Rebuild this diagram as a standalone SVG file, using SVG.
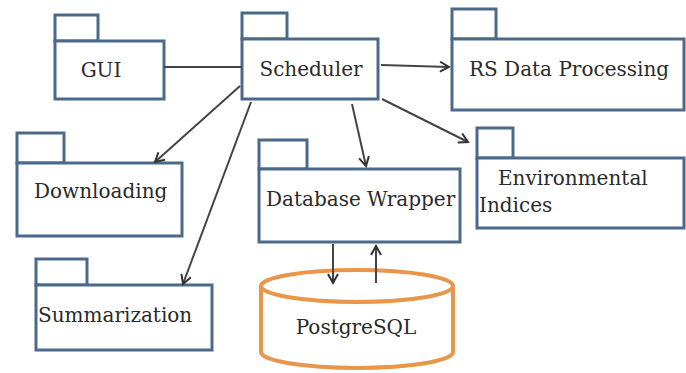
<svg xmlns="http://www.w3.org/2000/svg" width="686" height="373" viewBox="0 0 686 373">
<style>
.pkg{fill:#fff;stroke:#4b6a8a;stroke-width:3}
.lbl{font-family:"DejaVu Serif","Liberation Serif",serif;font-size:20px;fill:#2a2a2a}
.con{stroke:#444;stroke-width:2;fill:none}
.db{fill:#fff;stroke:#e8964a;stroke-width:4}
</style>
<defs>
<marker id="arr" markerWidth="12" markerHeight="12" refX="10" refY="6" orient="auto" markerUnits="userSpaceOnUse">
<path d="M1,1 L10,6 L1,11" fill="none" stroke="#333" stroke-width="2"/>
</marker>
</defs>
<rect width="686" height="373" fill="#fff"/>
<g id="gui">
<rect class="pkg" x="55" y="15" width="43" height="26"/>
<rect class="pkg" x="55" y="41" width="109" height="58"/>
<text class="lbl" x="101" y="77" text-anchor="middle">GUI</text>
</g>
<g id="scheduler">
<rect class="pkg" x="242" y="13" width="45" height="26"/>
<rect class="pkg" x="242" y="39" width="136" height="60"/>
<text class="lbl" x="311" y="76" text-anchor="middle">Scheduler</text>
</g>
<g id="rs-data-processing">
<rect class="pkg" x="452" y="9" width="44" height="30"/>
<rect class="pkg" x="452" y="39" width="232" height="71"/>
<text class="lbl" x="469" y="76">RS Data Processing</text>
</g>
<g id="downloading">
<rect class="pkg" x="17" y="133" width="47" height="30"/>
<rect class="pkg" x="17" y="163" width="165" height="73"/>
<text class="lbl" x="34" y="198">Downloading</text>
</g>
<g id="summarization">
<rect class="pkg" x="36" y="259" width="51" height="26"/>
<rect class="pkg" x="36" y="285" width="176" height="65"/>
<text class="lbl" x="38" y="322">Summarization</text>
</g>
<g id="database-wrapper">
<rect class="pkg" x="259" y="140" width="48" height="29"/>
<rect class="pkg" x="259" y="169" width="201" height="73"/>
<text class="lbl" x="266" y="206">Database Wrapper</text>
</g>
<g id="environmental-indices">
<rect class="pkg" x="477" y="128" width="36" height="30"/>
<rect class="pkg" x="477" y="158" width="207" height="70"/>
<text class="lbl" x="498" y="185">Environmental</text>
<text class="lbl" x="479" y="212">Indices</text>
</g>
<g id="postgresql">
<path class="db" d="M261,286 L261,352 A96,16 0 0 0 453,352 L453,286"/>
<ellipse class="db" cx="357" cy="286" rx="96" ry="16"/>
<text class="lbl" x="356" y="334" text-anchor="middle">PostgreSQL</text>
</g>
<g id="connectors">
<line class="con" x1="164" y1="67" x2="242" y2="67"/>
<line class="con" x1="381" y1="65" x2="449" y2="67" marker-end="url(#arr)"/>
<line class="con" x1="240" y1="86" x2="155" y2="162" marker-end="url(#arr)"/>
<line class="con" x1="251" y1="102" x2="183" y2="284" marker-end="url(#arr)"/>
<line class="con" x1="352" y1="104" x2="366" y2="166" marker-end="url(#arr)"/>
<line class="con" x1="382" y1="99" x2="468" y2="142" marker-end="url(#arr)"/>
<line class="con" x1="333" y1="244" x2="333" y2="283" marker-end="url(#arr)"/>
<line class="con" x1="376" y1="283" x2="376" y2="246" marker-end="url(#arr)"/>
</g>
</svg>
